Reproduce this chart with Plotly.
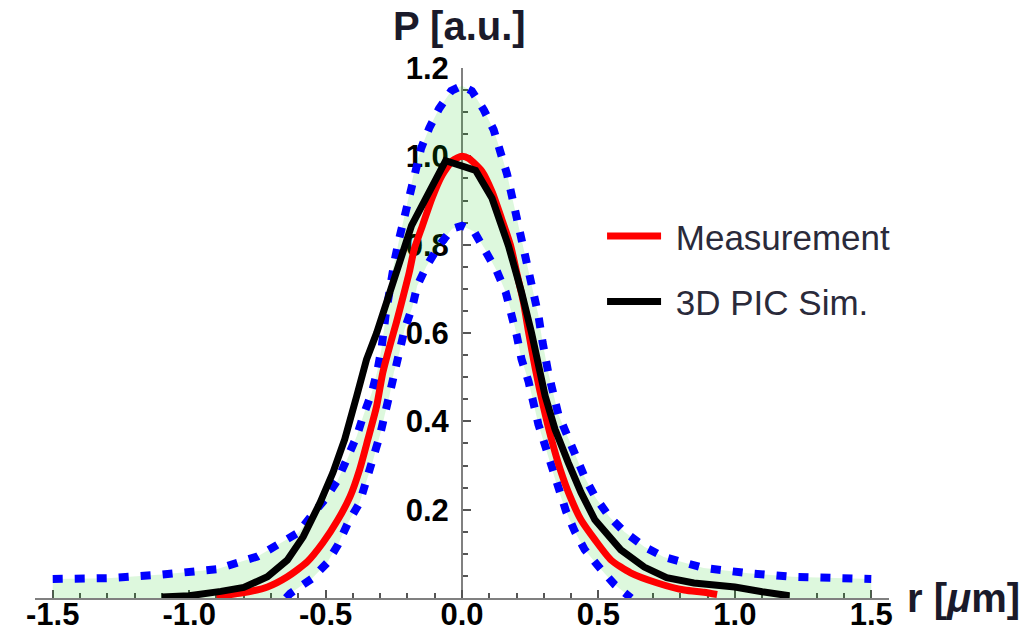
import plotly.graph_objects as go

# ---------------- data ----------------
r_meas = [-0.9, -0.81, -0.713, -0.64, -0.567, -0.51, -0.455, -0.41, -0.375, -0.345,
          -0.313, -0.29, -0.265, -0.24, -0.218, -0.193, -0.175, -0.145, -0.11, -0.073,
          -0.035, 0.0, 0.025, 0.073, 0.11, 0.145, 0.178, 0.2, 0.225, 0.244,
          0.269, 0.298, 0.328, 0.36, 0.396, 0.436, 0.487, 0.546, 0.618, 0.716,
          0.815, 0.887, 0.935]
p_meas = [0.004, 0.011, 0.025, 0.048, 0.082, 0.125, 0.177, 0.23, 0.291, 0.359,
          0.434, 0.511, 0.57, 0.625, 0.677, 0.738, 0.79, 0.843, 0.905, 0.957,
          0.99, 1.0, 0.995, 0.966, 0.92, 0.859, 0.798, 0.738, 0.67, 0.602,
          0.518, 0.434, 0.359, 0.291, 0.23, 0.177, 0.132, 0.086, 0.057, 0.034,
          0.018, 0.013, 0.008]

r_sim = [-1.1, -1.0, -0.884, -0.8, -0.713, -0.64, -0.582, -0.52, -0.473, -0.43,
         -0.386, -0.35, -0.313, -0.25, -0.185, -0.06, 0.015, 0.05, 0.11, 0.17,
         0.218, 0.255, 0.305, 0.341, 0.389, 0.436, 0.487, 0.582, 0.668, 0.75,
         0.85, 0.95, 1.0, 1.1, 1.2]
p_sim = [0.002, 0.005, 0.015, 0.024, 0.048, 0.086, 0.139, 0.216, 0.284, 0.359,
         0.457, 0.54, 0.60, 0.72, 0.843, 0.99, 0.977, 0.968, 0.905, 0.798,
         0.693, 0.60, 0.457, 0.382, 0.307, 0.239, 0.177, 0.109, 0.07, 0.046,
         0.034, 0.029, 0.025, 0.014, 0.005]

r_upper = [-1.5, -1.3, -1.1, -0.9, -0.75, -0.6, -0.55, -0.5, -0.455, -0.418,
           -0.386, -0.36, -0.33, -0.31, -0.295, -0.28, -0.265, -0.247, -0.23, -0.21,
           -0.193, -0.175, -0.15, -0.12, -0.084, -0.04, 0.0, 0.036, 0.08, 0.116,
           0.142, 0.165, 0.183, 0.2, 0.219, 0.236, 0.256, 0.28, 0.295, 0.316,
           0.353, 0.389, 0.418, 0.45, 0.49, 0.54, 0.595, 0.668, 0.74, 0.82,
           0.886, 1.05, 1.21, 1.5]
p_upper = [0.043, 0.045, 0.053, 0.065, 0.094, 0.148, 0.188, 0.225, 0.268, 0.318,
           0.366, 0.416, 0.466, 0.515, 0.565, 0.64, 0.707, 0.764, 0.814, 0.866,
           0.916, 0.966, 1.018, 1.064, 1.108, 1.148, 1.16, 1.148, 1.105, 1.06,
           1.01, 0.96, 0.91, 0.863, 0.814, 0.764, 0.711, 0.64, 0.58, 0.511,
           0.416, 0.364, 0.318, 0.273, 0.227, 0.184, 0.15, 0.116, 0.093, 0.079,
           0.068, 0.056, 0.048, 0.043]

r_lower = [-1.5, -0.645, -0.63, -0.55, -0.495, -0.455, -0.418, -0.375, -0.35, -0.327,
           -0.3, -0.285, -0.265, -0.25, -0.229, -0.21, -0.182, -0.164, -0.131, -0.084,
           -0.036, 0.0, 0.044, 0.09, 0.127, 0.16, 0.183, 0.2, 0.218, 0.244,
           0.28, 0.305, 0.328, 0.353, 0.382, 0.414, 0.45, 0.505, 0.56, 0.62, 1.5]
p_lower = [0.0, 0.0, 0.01, 0.044, 0.079, 0.12, 0.17, 0.216, 0.264, 0.309,
           0.37, 0.41, 0.46, 0.51, 0.557, 0.609, 0.659, 0.707, 0.75, 0.798,
           0.836, 0.843, 0.83, 0.784, 0.741, 0.693, 0.643, 0.596, 0.541, 0.49,
           0.393, 0.343, 0.295, 0.245, 0.195, 0.15, 0.109, 0.068, 0.03, 0.0, 0.0]

x_tick_vals = [-1.5, -1.0, -0.5, 0.0, 0.5, 1.0, 1.5]
x_tick_text = ["-1.5", "-1.0", "-0.5", "0.0", "0.5", "1.0", "1.5"]
y_tick_vals = [0.2, 0.4, 0.6, 0.8, 1.0, 1.2]
y_tick_text = ["0.2", "0.4", "0.6", "0.8", "1.0", "1.2"]

series_names = ["Measurement", "3D PIC Sim."]

# ---------------- styling ----------------
FONT = "Liberation Sans, Arial, Helvetica, sans-serif"
BLUE = "rgb(0,0,255)"
FILL = "rgba(0,203,0,0.133)"
AXIS = "#808080"
XR = [-1.565, 1.565]

fig = go.Figure()

# shaded band between the dotted bounds
fig.add_trace(go.Scatter(
    x=r_upper + r_lower[::-1], y=p_upper + p_lower[::-1],
    fill="toself", fillcolor=FILL, line=dict(width=0), mode="lines",
    showlegend=False, hoverinfo="skip"))

# dotted bounds
fig.add_trace(go.Scatter(
    x=r_upper, y=p_upper, mode="lines",
    line=dict(color=BLUE, width=8, dash="10px,12px"), showlegend=False))
fig.add_trace(go.Scatter(
    x=r_lower[1:-1], y=p_lower[1:-1], mode="lines",
    line=dict(color=BLUE, width=8, dash="10px,12px"), showlegend=False))

# measurement and simulation
fig.add_trace(go.Scatter(
    x=r_meas, y=p_meas, mode="lines", name="\u00a0" + series_names[0],
    line=dict(color="rgb(255,0,0)", width=7, shape="spline", smoothing=0.6),
    legendgroup="a"))
fig.add_trace(go.Scatter(
    x=r_sim, y=p_sim, mode="lines", name="\u00a0" + series_names[1],
    line=dict(color="black", width=7), legendgroup="b"))

tickfont = dict(family=FONT, size=31, color="black", weight="bold")

fig.update_layout(
    width=1030, height=638,
    margin=dict(l=35, r=141, t=68, b=40, autoexpand=False),
    paper_bgcolor="white", plot_bgcolor="white",
    showlegend=True,
    legend=dict(x=0.664, y=0.738, xanchor="left", yanchor="top",
                font=dict(family=FONT, size=35, color="#2a2a3a"),
                bgcolor="rgba(0,0,0,0)", tracegroupgap=17, itemwidth=54),
    xaxis=dict(range=XR, showgrid=False, zeroline=False, showline=True,
               automargin=False,
               linecolor=AXIS, linewidth=2, ticks="inside", ticklen=8,
               tickwidth=2, tickcolor="#555", tickvals=x_tick_vals,
               ticktext=x_tick_text, tickfont=tickfont, layer="below traces",
               ticklabelstandoff=-12,
               minor=dict(tickmode="linear", tick0=0, dtick=0.1, ticks="inside",
                          ticklen=5, tickwidth=1.5, tickcolor="#555")),
    yaxis=dict(range=[0, 1.2], anchor="free", position=0.5, showgrid=False,
               automargin=False,
               zeroline=False, showline=True, linecolor=AXIS, linewidth=2,
               ticks="inside", ticklen=8, tickwidth=2, tickcolor="#555",
               tickvals=y_tick_vals, ticktext=y_tick_text, tickfont=tickfont,
               layer="below traces", ticklabelstandoff=6,
               minor=dict(tickmode="linear", tick0=0, dtick=0.05, ticks="inside",
                          ticklen=5, tickwidth=1.5, tickcolor="#555")),
    annotations=[
        dict(text="P [a.u.]", xref="paper", yref="paper", x=0.497, y=1.079,
             xanchor="center", yanchor="middle", showarrow=False,
             font=dict(family=FONT, size=40, color="#1a1a2a", weight="bold")),
        dict(text="r [<i>μ</i>m]", xref="paper", yref="paper", x=1.019, y=0.0,
             xanchor="left", yanchor="middle", showarrow=False,
             font=dict(family=FONT, size=40, color="#1a1a2a", weight="bold")),
    ],
)

fig.write_html(
    "out.html",
    config={"displayModeBar": False},
    post_script="document.body.style.margin='0px';document.body.style.overflow='hidden';",
)
